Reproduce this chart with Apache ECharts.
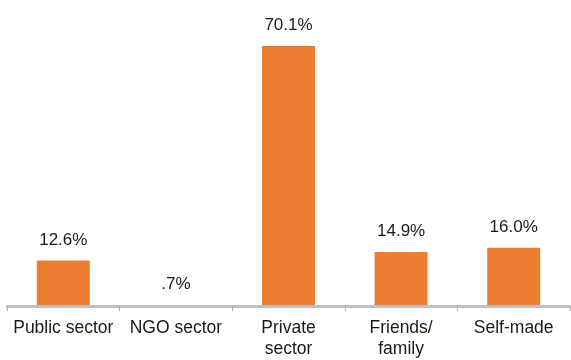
<!DOCTYPE html>
<html>
<head>
<meta charset="utf-8">
<script src="https://cdn.jsdelivr.net/npm/echarts@6/dist/echarts.min.js"></script>
<style>
  html, body { margin: 0; padding: 0; background: #ffffff; }
  #chart { width: 571px; height: 360px; }
</style>
</head>
<body>
<div id="chart"></div>
<script>
// Where the money came from: share of respondents by source
const categories = ['Public sector', 'NGO sector', 'Private\nsector', 'Friends/\nfamily', 'Self-made'];
const shares = [12.6, 0.7, 70.1, 14.9, 16.0];

function pctLabel(v) {
  // leading zero dropped, as in ".7%"
  let s = v.toFixed(1);
  if (s.startsWith('0.')) s = s.slice(1);
  return s + '%';
}

const chart = echarts.init(document.getElementById('chart'), null, { renderer: 'canvas' });
chart.setOption({
  animation: false,
  grid: { left: 7, right: 1, top: 46, bottom: 51, containLabel: false },
  xAxis: {
    type: 'category',
    data: categories,
    z: 5,          // baseline sits on top of the bars
    offset: -1.5,  // and overlaps their feet slightly
    axisLine: { lineStyle: { color: '#c0c0c0', width: 3 } },
    axisTick: { show: true, length: 5, lineStyle: { color: '#b0b0b0', width: 1 } },
    axisLabel: {
      color: '#1a1a1a',
      fontFamily: 'Liberation Sans, Arial, sans-serif',
      fontSize: 17.5,
      lineHeight: 21,
      margin: 12,
      interval: 0
    }
  },
  yAxis: {
    type: 'value',
    min: 0,
    max: 70.1,
    show: false,
    splitLine: { show: false }
  },
  series: [{
    type: 'bar',
    data: shares,
    barWidth: 53,
    itemStyle: { color: '#ED7D31' },
    label: {
      show: true,
      position: 'top',
      distance: 12,
      color: '#1a1a1a',
      fontFamily: 'Liberation Sans, Arial, sans-serif',
      fontSize: 17,
      formatter: p => pctLabel(p.value)
    }
  }]
});
</script>
</body>
</html>
